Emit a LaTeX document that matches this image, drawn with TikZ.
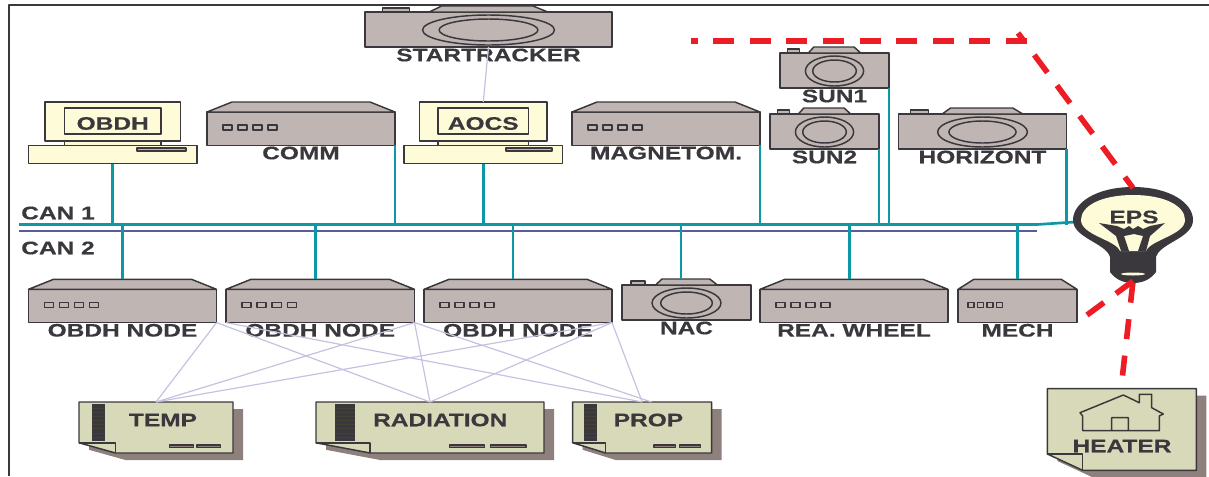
\documentclass[tikz,border=0pt]{standalone}
\usepackage{fontspec}
\newfontfamily\lblfont[FakeStretch=1.35,BoldFeatures={FakeBold=0.4}]{Liberation Sans}
\def\px{0.75pt}
\definecolor{inkc}{HTML}{3A383C}
\definecolor{boxc}{HTML}{BFB5B3}
\definecolor{pcc}{HTML}{FEFBD8}
\definecolor{cardc}{HTML}{D8D9B8}
\definecolor{shadec}{HTML}{8E807C}
\definecolor{canac}{HTML}{0E98A6}
\definecolor{canbc}{HTML}{5B5A9C}
\definecolor{linkc}{HTML}{C5C2E0}
\definecolor{powerc}{HTML}{EE1C25}
\tikzset{
	part/.style={draw=inkc,line width=1.1pt},
	body/.style={part,inner sep=0,outer sep=0,anchor=north west},
	lbl/.style={inner sep=0,yshift=-.75pt,text=inkc,font=\lblfont\bfseries\fontsize{13.6}{14}\selectfont},
	bus/.style={canac,line width=2pt},
	link/.style={linkc,line width=0.9pt},
	power/.style={powerc,line width=4.2pt}
}
% name, x, y, width, label
\newcommand{\hubbox}[5]{
	\node[body,fill=boxc,minimum width=#4*\px,minimum height=33.3*\px] (#1) at (#2,#3) {};
	\begin{scope}[shift={(#2,#3)},x=#4*\px]
		\draw[part,fill=boxc] (0,0)--(.133,-10)--(.867,-10)--(1,0)--cycle;
		\coordinate (#1-top) at (.5,-10);
		\foreach \i in {0,1,2,3}
			\draw[part,fill=boxc] (.085+.08*\i,13)rectangle(.133+.08*\i,18);
		\node[lbl] (#1-label) at (.5,40) {#5};
	\end{scope}
}
% name, x, y, width, label
\newcommand{\camera}[5]{
	\node[body,fill=boxc,minimum width=#4*\px,minimum height=35*\px] (#1) at (#2,#3) {};
	\begin{scope}[shift={(#2,#3)},x=#4*\px]
		\draw[part,fill=boxc] (.07,0)rectangle(.18,-4);
		\draw[part,fill=boxc] (.26,0)--(.31,-6)--(.68,-6)--(.74,0)--cycle;
		\coordinate (#1-top) at (.5,-6);
		\draw[part] (.5,18) ellipse[x radius=.267,y radius=15] (.5,18) ellipse[x radius=.2,y radius=11];
		\node[lbl] (#1-label) at (.5,42) {#5};
	\end{scope}
}
% name, x, width, label
\newcommand{\computer}[4]{
	\node[body,fill=pcc,minimum width=#3*\px,minimum height=18*\px] (#1) at (#2,145.5) {};
	\begin{scope}[shift={(#2,102)},x=#3*\px]
		\draw[part,fill=pcc] (.213,39)rectangle(.787,43.5);
		\node[part,fill=pcc,inner sep=0,outer sep=0,minimum width=.806*#3*\px,minimum height=39*\px] (#1-screen) at (.5,19.5) {};
		\draw[part] (.213,6)rectangle(.787,32);
		\draw[part,fill=boxc] (.644,46)rectangle(.934,49);
		\node[lbl] (#1-label) at (.5,20.5) {#4};
	\end{scope}
}
% name, x, y, width, height
\newcommand{\card}[5]{
	\begin{scope}[shift={(#2,#3)},x=#4*\px,y=-#5*\px]
		\fill[shadec,xshift=7.5pt,yshift=-5.25pt] (0,0)--(1,0)--(1,1)--(.237,1)--(0,.8)--cycle;
		\draw[part,fill=cardc] (0,0)--(1,0)--(1,1)--(.237,1)--(0,.8)--cycle;
		\draw[part] (0,.8)--(.237,.8)--(.237,1);
		\node[inner sep=0,outer sep=0,anchor=north west,minimum width=#4*\px,minimum height=#5*\px] (#1) at (0,0) {};
	\end{scope}
}
% name, x, width, label
\newcommand{\sensor}[4]{
	\card{#1}{#2}{402}{#3}{51}
	\begin{scope}[shift={(#2,402)},x=#3*\px]
		\fill[inkc] (.082,2)rectangle(.172,39);
		\foreach \i in {1,...,8}
			\draw[black!70!cardc,line width=.3pt] (.082,2+4.1*\i)--(.172,2+4.1*\i);
		\draw[part,line width=.8pt,fill=shadec] (.585,43)rectangle(.741,45.5) (.766,43)rectangle(.921,45.5);
		\node[lbl] (#1-label) at (.545,17) {#4};
	\end{scope}
}
\begin{document}
\begin{tikzpicture}[x=\px,y=-\px,line join=round]
	\useasboundingbox (0,0) rectangle (1209,476);
	\draw[inkc,line width=1.8pt] (9,476)--(9,5)--(1209,5);

	\coordinate (cana) at (19,224.5);
	\coordinate (canb) at (19,231);
	\coordinate (canaend) at (1037,224.5);
	\coordinate (canbend) at (1037,231);
	\coordinate (epsleft) at (1075,222);
	\coordinate (epstop) at (1133,188);
	\coordinate (epsbase) at (1133,281);

	\computer{obdh}{28.5}{168.5}{OBDH}
	\computer{aocs}{404}{158.5}{AOCS}
	\hubbox{comm}{207}{112}{188}{COMM}
	\hubbox{magnet}{572}{112}{188}{MAGNETOM.}
	\camera{star}{365}{12}{247}{STARTRACKER}
	\camera{sunb}{780}{53}{109}{SUN1}
	\camera{suna}{770}{114}{109}{SUN2}
	\camera{horiz}{898.5}{114}{168}{HORIZONT}
	\hubbox{nodea}{28.5}{289.3}{188}{OBDH NODE}
	\hubbox{nodeb}{226}{289.3}{188.5}{OBDH NODE}
	\hubbox{nodec}{424}{289.3}{188}{OBDH NODE}
	\camera{nac}{622}{285}{129}{NAC}
	\hubbox{wheel}{760}{289.3}{188}{REA. WHEEL}
	\hubbox{mech}{958}{289.3}{119}{MECH}
	\sensor{temp}{79}{154}{TEMP}
	\sensor{rad}{316}{228}{RADIATION}
	\sensor{prop}{572.7}{139}{PROP}
	\card{heater}{1047.3}{388.7}{149}{81.6}

	% house
	\draw[part] (1123.3,395)--(1139.3,402.7)--(1139.3,394.3)--(1151.7,394.3)--(1151.7,407.7)--(1163.3,414)--(1159.3,416)--(1159.3,430.7)--(1082.7,430.7)--(1082.7,416)--(1080,412.7)--cycle (1111.7,430.7)rectangle(1128.3,417.7);
	\node[lbl] (heaterlabel) at (1122,445) {HEATER};

	% buses
	\draw[canbc,line width=1.7pt] (canb)--(canbend);
	\draw[bus] (cana)--(canaend)--(epsleft);
	\node[lbl] (canalabel) at (58,212) {CAN 1};
	\node[lbl] (canblabel) at (58,247) {CAN 2};
	\draw[bus] (obdh.south)--(obdh.south |- cana);
	\draw[bus] (aocs.south)--(aocs.south |- cana);
	\foreach \n in {comm,magnet,suna,sunb,horiz}
		\draw[bus] (\n.south east)--(\n.south east |- cana);
	\foreach \x/\n in {122.5/nodea,315.5/nodeb,513/nodec,681/nac,849.5/wheel,1017.5/mech}
		\draw[bus] (\x,0 |- cana)--(\x,0 |- \n-top);

	% lamp
	\fill[inkc] (1133,187) .. controls (1170,187) and (1193,203) .. (1193,220) .. controls (1193,238) and (1160,243) .. (1156,257)--(1156,272) .. controls (1150,280) and (1142,283) .. (1133,283) .. controls (1124,283) and (1116,280) .. (1110,272)--(1110,257) .. controls (1106,243) and (1073,238) .. (1073,220) .. controls (1073,203) and (1096,187) .. (1133,187)--cycle;
	\fill[pcc] (1133,195) .. controls (1165,195) and (1185,206) .. (1185,220) .. controls (1185,235) and (1150,240) .. (1146,251)--(1120,251) .. controls (1116,240) and (1081,235) .. (1081,220) .. controls (1081,206) and (1101,195) .. (1133,195)--cycle;
	\fill[inkc] (1099,223)--(1117,226)--(1124,229)--(1129,226)--(1133,229)--(1138,226)--(1143,229)--(1150,226)--(1165,223)--(1150,236)--(1146,251)--(1138,251)--(1143,236)--(1134,234)--(1124,236)--(1129,251)--(1121,251)--(1116,236)--cycle;
	\fill[pcc] (1133,274) ellipse[x radius=12,y radius=1.5];
	\node[lbl] (eps) at (1134,216) {EPS};

	% links
	\draw[link] (star.south)--(aocs-screen.north);
	\foreach \a/\b in {nodea.south east/temp.north,nodea.south east/rad.north,nodeb.south west/prop.north,nodeb.south east/temp.north,nodeb.south east/rad.north,nodec.south east/temp.north,nodec.south east/rad.north,nodec.south east/prop.north}
		\draw[link] (\a)--(\b);
	\draw[link] (nodeb.south east)--([xshift=7pt]prop.north);

	% power
	\coordinate (corner) at (1027,41);
	\coordinate (powerend) at (691,41);
	\coordinate (cross) at (1018,33);
	\coordinate (mechend) at (1087,315);
	\coordinate (heaterend) at (1122.5,375.5);
	\draw[power,dash pattern=on 15.75pt off 11.7pt] (corner)--(powerend);
	\draw[power,dash pattern=on 16.5pt off 12pt,dash phase=8pt] (cross)--(epstop);
	\draw[power,dash pattern=on 15.75pt off 11.3pt] (mechend)--(epsbase);
	\draw[power,dash pattern=on 15pt off 12.5pt] (heaterend)--(epsbase);
\end{tikzpicture}
\end{document}
